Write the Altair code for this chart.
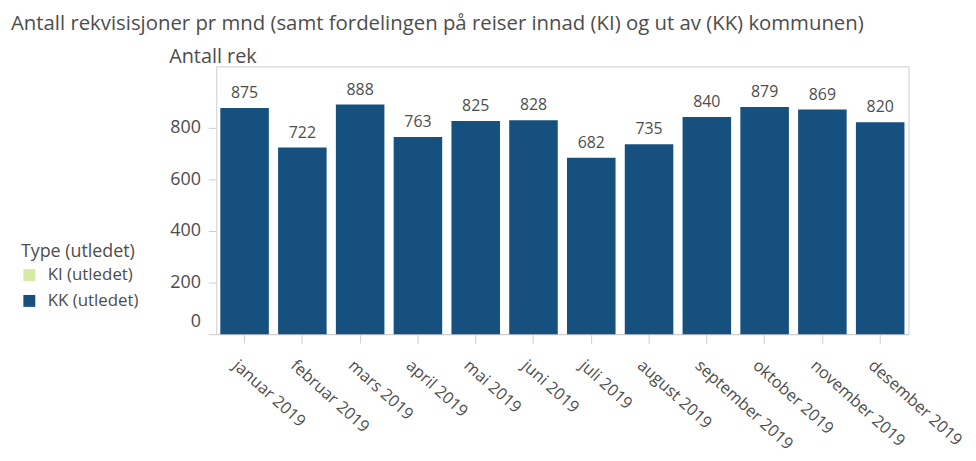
import altair as alt
import pandas as pd

months = ["januar 2019", "februar 2019", "mars 2019", "april 2019", "mai 2019", "juni 2019",
          "juli 2019", "august 2019", "september 2019", "oktober 2019", "november 2019", "desember 2019"]
kk_values = [875, 722, 888, 763, 825, 828, 682, 735, 840, 879, 869, 820]
ki_values = [0, 0, 0, 0, 0, 0, 0, 0, 0, 0, 0, 0]
types = ["KI (utledet)", "KK (utledet)"]
colors = ["#d5eaa3", "#15507f"]
y_ticks = [0, 200, 400, 600, 800]

rows = []
for m, ki, kk in zip(months, ki_values, kk_values):
    rows.append({"mnd": m, "Type (utledet)": types[0], "Antall": ki})
    rows.append({"mnd": m, "Type (utledet)": types[1], "Antall": kk})
df = pd.DataFrame(rows)
tot = pd.DataFrame({"mnd": months, "Total": [a + b for a, b in zip(ki_values, kk_values)]})

FONT = "Open Sans"
TXT = "#4d4d4d"

x = alt.X("mnd:N", sort=months, title=None,
          scale=alt.Scale(paddingInner=0.16, paddingOuter=0.07),
          axis=alt.Axis(labelAngle=42, labelAlign="left", labelBaseline="top",
                        labelFontSize=16.5, labelColor=TXT, labelFont=FONT,
                        tickSize=9, tickColor="#cccccc", domainColor="#cccccc",
                        labelPadding=14, labelOffset=-4))

bars = alt.Chart(df).mark_bar().encode(
    x=x,
    y=alt.Y("sum(Antall):Q", title="Antall rek",
            scale=alt.Scale(domain=[0, 1036], nice=False),
            axis=alt.Axis(values=y_ticks, grid=False, tickSize=8, tickColor="#cccccc",
                          domain=False, labelFontSize=18, labelColor=TXT, labelFont=FONT,
                          labelPadding=8,
                          labelOffset={"condition": {"test": "datum.value === 0", "value": -13},
                                       "value": 0},
                          titleAngle=0, titleX=-48, titleY=-10, titleAlign="left",
                          titleBaseline="middle", titleFontSize=20, titleFont=FONT,
                          titleColor=TXT, titleFontWeight="normal")),
    color=alt.Color("Type (utledet):N",
                    scale=alt.Scale(domain=types, range=colors),
                    legend=alt.Legend(orient="none", legendX=-197, legendY=178,
                                      titleFontSize=18, titleFont=FONT, titleColor=TXT,
                                      titleFontWeight="normal", labelFontSize=17,
                                      labelFont=FONT, labelColor=TXT, symbolType="square",
                                      symbolSize=144, symbolStrokeWidth=0, rowPadding=8,
                                      labelOffset=10, titlePadding=6)),
    order=alt.Order("Type (utledet):N"),
)

labels = alt.Chart(tot).mark_text(baseline="middle", dy=-15, fontSize=16, font=FONT,
                                  color=TXT).encode(
    x=alt.X("mnd:N", sort=months),
    y=alt.Y("Total:Q"),
    text=alt.Text("Total:Q"),
)

chart = alt.layer(bars, labels).properties(
    width=698, height=270,
    title=alt.TitleParams(
        "Antall rekvisisjoner pr mnd (samt fordelingen på reiser innad (KI) og ut av (KK) kommunen)",
        anchor="start", frame="group", dx=-207, dy=-8, fontSize=20.5, font=FONT, color=TXT,
        fontWeight="normal"),
    autosize=alt.AutoSizeParams(type="none"),
    padding={"left": 210, "top": 57, "right": 60, "bottom": 118},
).configure_view(stroke="#cccccc", strokeWidth=1)

chart.save("out.html", embed_options={"renderer": "svg", "actions": False})
